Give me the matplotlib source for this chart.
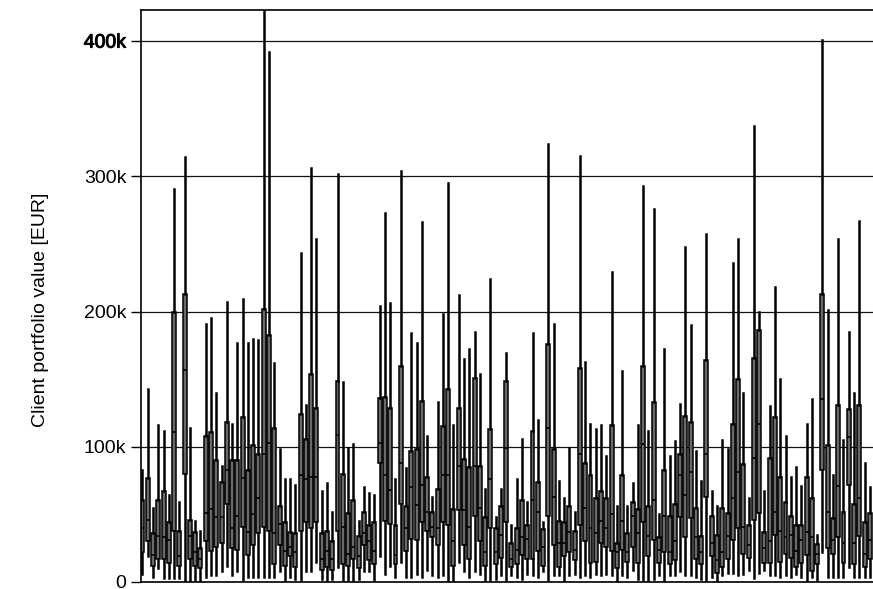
import numpy as np
import matplotlib
matplotlib.use("Agg")
import matplotlib.pyplot as plt
import matplotlib.patheffects as pe
from matplotlib.ticker import FuncFormatter

plt.rcParams['font.family'] = ['Liberation Sans', 'DejaVu Sans']

# portfolio value per client, in thousand EUR
whisk_hi = [83, 143, 55, 116, 112, 64, 291, 59, 314, 114, 45, 38, 191, 195, 140, 86, 207, 117, 177, 209,
            177, 180, 179, 440, 392, 162, 98, 76, 76, 72, 243, 131, 306, 254, 67, 73, 52, 302, 148, 99,
            102, 45, 70, 66, 64, 204, 273, 206, 76, 304, 84, 184, 177, 266, 108, 63, 133, 198, 295, 116,
            212, 165, 172, 185, 154, 69, 224, 48, 69, 169, 42, 76, 106, 59, 184, 120, 44, 324, 191, 75,
            62, 99, 52, 315, 163, 117, 113, 116, 93, 229, 56, 156, 56, 73, 116, 293, 112, 276, 50, 172,
            93, 104, 132, 248, 190, 97, 75, 257, 67, 56, 105, 98, 236, 254, 140, 62, 337, 200, 67, 130,
            218, 150, 108, 78, 85, 71, 117, 135, 35, 401, 201, 79, 254, 105, 185, 140, 267, 88, 70]
q3 = [61, 77, 36, 61, 67, 44, 200, 38, 213, 46, 37, 25, 108, 111, 90, 74, 118, 90, 90, 122,
      83, 101, 95, 202, 183, 114, 56, 44, 37, 36, 124, 106, 154, 129, 36, 38, 30, 149, 80, 51,
      61, 34, 52, 42, 44, 136, 137, 129, 42, 160, 56, 97, 98, 134, 78, 52, 69, 115, 143, 54,
      129, 91, 85, 151, 86, 48, 113, 40, 56, 149, 29, 40, 61, 42, 112, 74, 39, 176, 98, 45,
      44, 56, 38, 158, 88, 79, 62, 67, 62, 116, 29, 79, 36, 59, 54, 160, 56, 133, 33, 83,
      49, 58, 95, 123, 118, 55, 34, 164, 49, 35, 55, 51, 117, 150, 87, 42, 166, 186, 37, 92,
      122, 78, 59, 49, 42, 42, 78, 62, 28, 213, 101, 47, 131, 52, 128, 58, 131, 44, 51]
med = [40, 46, 20, 34, 33, 31, 111, 19, 157, 34, 22, 17, 51, 54, 48, 48, 83, 40, 49, 77,
       37, 50, 62, 95, 103, 36, 43, 23, 26, 22, 79, 76, 78, 78, 17, 23, 17, 109, 41, 21,
       26, 19, 36, 30, 23, 103, 79, 68, 20, 88, 40, 70, 57, 72, 52, 41, 40, 79, 79, 30,
       86, 53, 41, 86, 55, 22, 76, 22, 35, 99, 17, 24, 33, 32, 61, 52, 26, 114, 63, 29,
       29, 37, 24, 95, 55, 40, 36, 45, 40, 50, 22, 45, 22, 49, 36, 102, 34, 61, 24, 49,
       22, 30, 79, 64, 81, 33, 22, 95, 29, 16, 22, 34, 62, 81, 41, 27, 92, 117, 25, 30,
       52, 38, 33, 35, 23, 31, 37, 33, 21, 135, 52, 31, 71, 29, 107, 29, 62, 21, 31]
q1 = [22, 30, 12, 17, 17, 14, 38, 12, 80, 17, 12, 10, 30, 23, 26, 29, 58, 25, 24, 41,
      20, 27, 36, 41, 38, 13, 27, 12, 19, 11, 38, 44, 40, 44, 9, 11, 9, 38, 13, 12,
      17, 10, 27, 16, 13, 88, 45, 43, 13, 58, 23, 32, 31, 44, 38, 33, 27, 44, 42, 12,
      53, 27, 17, 49, 30, 12, 40, 13, 18, 44, 11, 13, 20, 17, 17, 23, 12, 49, 27, 11,
      19, 22, 16, 42, 30, 14, 15, 29, 26, 23, 10, 24, 15, 26, 14, 44, 19, 31, 14, 22,
      13, 16, 48, 33, 47, 17, 13, 63, 19, 7, 11, 17, 31, 40, 21, 18, 46, 51, 14, 14,
      35, 15, 21, 18, 11, 14, 20, 8, 13, 83, 25, 21, 33, 14, 72, 13, 34, 11, 17]
whisk_lo = [6, 19, 4, 10, 3, 3, 3, 3, 0, 1, 0, 1, 4, 5, 5, 8, 12, 5, 8, 0,
            4, 4, 4, 4, 4, 4, 8, 0, 4, 2, 0, 8, 8, 15, 2, 1, 2, 11, 1, 1,
            1, 2, 8, 8, 0, 19, 6, 12, 4, 15, 4, 4, 6, 4, 9, 5, 4, 5, 0, 1,
            15, 8, 4, 8, 6, 0, 1, 2, 5, 1, 5, 4, 2, 6, 5, 4, 8, 1, 5, 5,
            0, 5, 6, 4, 5, 4, 6, 5, 6, 5, 0, 5, 4, 9, 2, 1, 0, 2, 5, 0,
            5, 5, 8, 5, 5, 4, 2, 1, 4, 1, 5, 7, 7, 5, 6, 9, 3, 7, 9, 5,
            5, 4, 5, 4, 6, 4, 0, 4, 1, 22, 4, 4, 4, 4, 11, 4, 4, 4, 4]

stats = []
for i in range(len(med)):
    stats.append({
        'whislo': whisk_lo[i] * 1000, 'q1': q1[i] * 1000, 'med': med[i] * 1000,
        'q3': q3[i] * 1000, 'whishi': whisk_hi[i] * 1000, 'fliers': [],
    })

fig = plt.figure(figsize=(8.73, 5.89), dpi=100)
ax = fig.add_axes([0.1615, 0.0119, 1 - 0.1615, 0.9711])

ax.set_axisbelow(True)
ax.yaxis.grid(True, color='#111111', linewidth=0.9)

ax.bxp(stats, positions=np.arange(1, len(med) + 1), widths=0.75,
       showcaps=False, showfliers=False, patch_artist=True,
       boxprops=dict(facecolor='#6a6a6a', edgecolor='black', linewidth=1.1),
       whiskerprops=dict(color='black', linewidth=1.8),
       medianprops=dict(color='black', linewidth=1.2))

ax.set_xlim(0.715, 139.6)
ax.set_ylim(0, 423000)
ax.set_yticks([0, 100000, 200000, 300000, 400000])
ax.yaxis.set_major_formatter(FuncFormatter(lambda v, p: '0' if v == 0 else f'{v / 1000:.0f}k'))
ax.tick_params(axis='y', labelsize=14, length=7, width=1, colors='black')
ax.tick_params(axis='x', bottom=False, labelbottom=False)
ax.set_ylabel('Client portfolio value [EUR]', fontsize=14)
ax.yaxis.set_label_coords(-0.1255, 0.4755)

ax.spines['right'].set_visible(False)
for s in ['left', 'top', 'bottom']:
    ax.spines[s].set_linewidth(1.2)

for lab in ax.get_yticklabels():
    if lab.get_text() == '400k':
        lab.set_path_effects([pe.withStroke(linewidth=0.7, foreground='black')])

fig.savefig('out.png', dpi=100)
